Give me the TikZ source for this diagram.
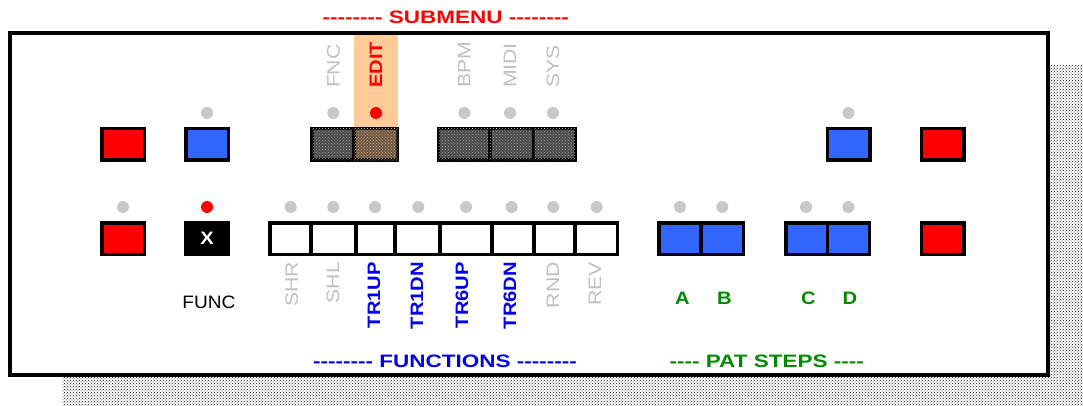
\documentclass[tikz,border=0pt]{standalone}
\usepackage{fontspec}
\usetikzlibrary{patterns}
\newfontfamily\pixr{Liberation Sans}[FakeStretch=1.18]
\newfontfamily\pixb{Liberation Sans}[FakeStretch=1.12]
\newfontfamily\pixt{Liberation Sans}[FakeStretch=1.25]
\definecolor{btnred}{HTML}{FF0000}
\definecolor{btnblue}{HTML}{3366FF}
\definecolor{dotgray}{HTML}{C8C8C8}
\definecolor{lblgray}{HTML}{C0C0C0}
\definecolor{lblblue}{HTML}{0000EE}
\definecolor{lblgreen}{HTML}{008A00}
\definecolor{hilite}{HTML}{FFCC99}
\definecolor{darkbase}{HTML}{4A4A4A}
\definecolor{darkdot}{HTML}{A0A0A0}
\definecolor{editbase}{HTML}{6A5440}
\definecolor{editdot}{HTML}{D0A070}
\begin{document}
\begin{tikzpicture}[x=1pt,y=-1pt,
  btn/.style={draw=black,line width=3.5pt,minimum width=42.5pt,minimum height=31.5pt,inner sep=0pt,outer sep=0pt},
  redbtn/.style={btn,fill=btnred},
  bluebtn/.style={btn,fill=btnblue},
  whitecell/.style={draw=black,line width=3.5pt,fill=white,minimum height=31.5pt,inner sep=0pt,outer sep=0pt},
  bluecell/.style={whitecell,fill=btnblue},
  darkcell/.style={draw=black,line width=3.5pt,fill=darkbase,minimum height=31.5pt,inner sep=0pt,outer sep=0pt,
     postaction={pattern=crosshatch dots,pattern color=darkdot}},
  editcell/.style={darkcell,fill=editbase,postaction={pattern=crosshatch dots,pattern color=editdot}},
  led/.style={circle,fill=dotgray,minimum size=12pt,inner sep=0pt},
  ledon/.style={led,fill=btnred},
  base/.style={inner sep=0pt,outer sep=0pt,font=\fontsize{18}{20}\selectfont},
  graylbl/.style={base,font=\pixr\fontsize{18}{20}\selectfont,text=lblgray},
  bluelbl/.style={base,font=\pixb\bfseries\fontsize{18}{20}\selectfont,text=lblblue},
  redlbl/.style={base,font=\pixb\bfseries\fontsize{18}{20}\selectfont,text=btnred},
  greenlbl/.style={base,font=\pixb\bfseries\fontsize{18}{20}\selectfont,text=lblgreen},
  downlbl/.style={rotate=90,anchor=east},
  uplbl/.style={rotate=90,anchor=west},
  title/.style={base,font=\pixt\bfseries\fontsize{18}{20}\selectfont}
]
\useasboundingbox (0,0) rectangle (1083,406);
\fill[white] (0,0) rectangle (1083,406);
% shadow
\path[pattern=crosshatch dots,pattern color=black!90] (62,65) rectangle (1083,406);
% frame
\node[draw=black,line width=4pt,fill=white,inner sep=0pt,outer sep=0pt,
      minimum width=1037.5pt,minimum height=342pt] (frame) at (528.75,204) {};
% highlight behind EDIT
\fill[hilite] (354,35) rectangle (398,127);

% titles
\node[title,text=btnred] (tsub) at (445.7,17) {-------- SUBMENU --------};
\node[title,text=lblblue] (tfun) at (445,361.7) {-------- FUNCTIONS --------};
\node[title,text=lblgreen] (tpat) at (766.7,361.7) {---- PAT STEPS ----};

% top row
\node[redbtn] (rtl) at (123,144.5) {};
\node[bluebtn] (btl) at (207,144.5) {};
\node[led] (dbtl) at (207,113) {};

\node[darkcell,minimum width=42.25pt] (fnc) at (332.875,144.5) {};
\node[editcell,minimum width=43.25pt] (edit) at (375.625,144.5) {};
\node[darkcell,minimum width=51.5pt] (bpm) at (464.25,144.5) {};
\node[darkcell,minimum width=43.3pt] (midi) at (511.65,144.5) {};
\node[darkcell,minimum width=41.95pt] (sys) at (554.275,144.5) {};

\node[led] (dfnc) at (333.3,113) {};
\node[ledon] (dedit) at (376,113) {};
\node[led] (dbpm) at (464.3,113) {};
\node[led] (dmidi) at (510,113) {};
\node[led] (dsys) at (553,113) {};

\node[graylbl,uplbl] (lfnc) at (333.3,88) {FNC};
\node[redlbl,uplbl] (ledit) at (376,88) {EDIT};
\node[graylbl,uplbl] (lbpm) at (464.3,88) {BPM};
\node[graylbl,uplbl] (lmidi) at (510,88) {MIDI};
\node[graylbl,uplbl] (lsys) at (553,88) {SYS};

\node[bluebtn] (btr) at (848.5,144.5) {};
\node[led] (dbtr) at (848.5,113) {};
\node[redbtn] (rtr) at (942.5,144.5) {};

% bottom row
\node[redbtn] (rbl) at (123,238.5) {};
\node[led] (drbl) at (123,207) {};
\node[btn,fill=black,text=white,font=\pixb\bfseries\fontsize{18}{18}\selectfont] (xbtn) at (207,238.5) {X};
\node[ledon] (dx) at (207,207) {};
\node[base,font=\pixr\fontsize{18}{20}\selectfont,text=black,xscale=0.9] (func) at (209,302) {FUNC};

\node[whitecell,minimum width=41.25pt] (c1) at (290.375,238.5) {};
\node[whitecell,minimum width=45pt] (c2) at (333.5,238.5) {};
\node[whitecell,minimum width=39pt] (c3) at (375.5,238.5) {};
\node[whitecell,minimum width=45pt] (c4) at (417.5,238.5) {};
\node[whitecell,minimum width=52pt] (c5) at (466,238.5) {};
\node[whitecell,minimum width=42pt] (c6) at (513,238.5) {};
\node[whitecell,minimum width=41pt] (c7) at (554.5,238.5) {};
\node[whitecell,minimum width=42.25pt] (c8) at (596.125,238.5) {};

\foreach \n/\x in {1/290.7,2/333.3,3/375,4/418.3,5/466,6/511.7,7/553.3,8/596.7}
  \node[led] (dc\n) at (\x,207) {};

\node[graylbl,downlbl] (lshr) at (291.7,262) {SHR};
\node[graylbl,downlbl] (lshl) at (333,262) {SHL};
\node[bluelbl,downlbl] (ltr1up) at (374,262) {TR1UP};
\node[bluelbl,downlbl] (ltr1dn) at (417,262) {TR1DN};
\node[bluelbl,downlbl] (ltr6up) at (462,262) {TR6UP};
\node[bluelbl,downlbl] (ltr6dn) at (510,262) {TR6DN};
\node[graylbl,downlbl] (lrnd) at (553,262) {RND};
\node[graylbl,downlbl] (lrev) at (595,262) {REV};

% pat steps
\node[bluecell,minimum width=42.25pt] (sa) at (679.875,238.5) {};
\node[bluecell,minimum width=42.25pt] (sb) at (722.125,238.5) {};
\node[bluecell,minimum width=41.75pt] (sc) at (806.625,238.5) {};
\node[bluecell,minimum width=41.75pt] (sd) at (848.375,238.5) {};
\node[led] (dsa) at (680,207) {};
\node[led] (dsb) at (722.3,207) {};
\node[led] (dsc) at (806,207) {};
\node[led] (dsd) at (848.3,207) {};
\node[greenlbl] (la) at (682.3,298.3) {A};
\node[greenlbl] (lb) at (724.3,298.3) {B};
\node[greenlbl] (lc) at (808.3,298.3) {C};
\node[greenlbl] (ld) at (850,298.3) {D};

\node[redbtn] (rbr) at (942.5,238.5) {};
\end{tikzpicture}
\end{document}
